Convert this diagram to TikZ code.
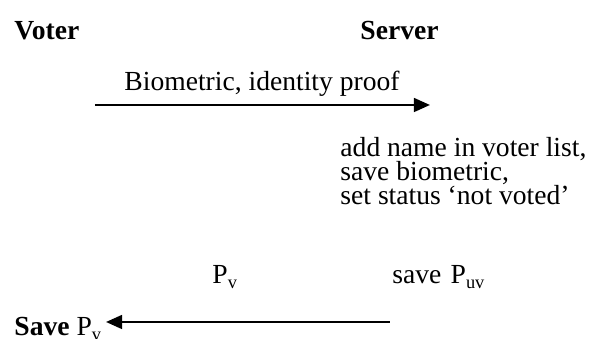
\documentclass[tikz,border=0pt]{standalone}
\usepackage{fontspec}
\setmainfont{Liberation Serif}
\usetikzlibrary{arrows.meta}

\begin{document}
\begin{tikzpicture}[x=0.435pt,y=-0.435pt,>={Triangle[length=7pt,width=6pt]},
 party/.style={anchor=base west,inner sep=0pt,font=\fontsize{12}{14}\selectfont\bfseries},
 msgtext/.style={anchor=base west,inner sep=0pt,font=\fontsize{12}{14}\selectfont},
 action/.style={anchor=north west,inner sep=0pt,align=left,font=\fontsize{12}{10.5}\selectfont},
 msg/.style={->,line width=1pt}]

  \useasboundingbox (0,0) rectangle (595,339);

  \node[party] (voter) at (14,40) {Voter};
  \node[party] (server) at (360,40) {Server};

  % registration request
  \coordinate (v1) at (95,105);
  \coordinate (s1) at (430,105);
  \draw[msg] (v1) -- (s1);
  \node[msgtext] (req) at (124,91) {Biometric, identity proof};

  \node[action] (reg) at (340,137) {add name in voter list,\\save biometric,\\set status `not voted'};

  % reply with the voter's key
  \coordinate (s2) at (390,322);
  \coordinate (v2) at (106,322);
  \draw[msg] (s2) -- (v2);
  \node[msgtext] (pv) at (212,284) {P\textsubscript{v}};
  \node[msgtext] (puv) at (392,284) {save~\kern1pt P\textsubscript{uv}};
  \node[msgtext] (savepv) at (14,336) {\textbf{Save} P\textsubscript{v}};
\end{tikzpicture}
\end{document}
